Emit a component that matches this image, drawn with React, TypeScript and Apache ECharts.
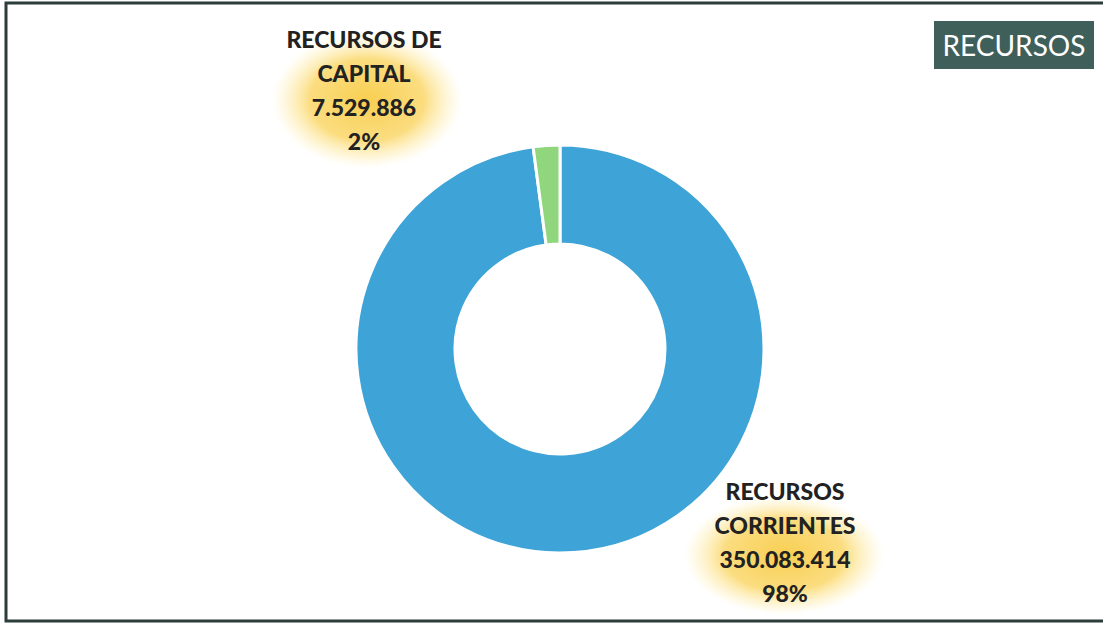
import React, { useEffect, useRef } from "react";
import * as echarts from "echarts";

const categories = ["RECURSOS CORRIENTES", "RECURSOS DE CAPITAL"];
const values = [350083414, 7529886];
const colors = ["#3ea3d6", "#8fd67c"];
const titleText = "RECURSOS";

const fmtNum = (n: number) =>
  Math.round(n).toString().replace(/\B(?=(\d{3})+(?!\d))/g, ".");

const wrapName = (s: string) => {
  const words = s.split(" ");
  const lines: string[] = [];
  let cur = "";
  for (const w of words) {
    if (cur && (cur + " " + w).length > 12) {
      lines.push(cur);
      cur = w;
    } else cur = cur ? cur + " " + w : w;
  }
  if (cur) lines.push(cur);
  return lines.join("\n");
};

export default function App() {
  const ref = useRef<HTMLDivElement>(null);
  useEffect(() => {
    if (!ref.current) return;
    const chart = echarts.init(ref.current, undefined, { renderer: "svg" });
    const labelPos = [
      { x: 785, y: 542 },
      { x: 364, y: 90 },
    ];
    const glow = (cx: number, cy: number, rx: number, ry: number) => ({
      type: "ellipse",
      z: 1,
      shape: { cx, cy, rx, ry },
      style: {
        fill: new echarts.graphic.RadialGradient(0.5, 0.5, 0.5, [
          { offset: 0, color: "rgba(248,204,72,0.95)" },
          { offset: 0.6, color: "rgba(250,212,95,0.8)" },
          { offset: 1, color: "rgba(255,236,160,0)" },
        ]),
      },
    });
    chart.setOption({
      animation: false,
      backgroundColor: "#ffffff",
      graphic: [
        {
          type: "rect",
          z: 0,
          shape: { x: 6, y: 3, width: 1110, height: 618 },
          style: { fill: "none", stroke: "#2c3d3a", lineWidth: 3 },
        },
        glow(367, 100, 95, 68),
        glow(784, 555, 100, 60),
        {
          type: "rect",
          z: 5,
          shape: { x: 934, y: 21, width: 160, height: 48 },
          style: { fill: "#3f5f5a" },
        },
        {
          type: "text",
          z: 6,
          x: 1014,
          y: 45,
          style: {
            text: titleText,
            fill: "#ffffff",
            font: "28px Lato, 'Open Sans', sans-serif",
            align: "center",
            verticalAlign: "middle",
          },
        },
      ],
      series: [
        {
          type: "pie",
          center: [560, 349],
          radius: [105, 204],
          startAngle: 90,
          clockwise: true,
          avoidLabelOverlap: false,
          itemStyle: { borderColor: "#ffffff", borderWidth: 3 },
          labelLine: { show: false },
          label: {
            show: true,
            position: "outside",
            color: "#222222",
            fontFamily: "Lato, 'Open Sans', sans-serif",
            fontWeight: 900,
            fontSize: 23,
            lineHeight: 34,
            align: "center",
            formatter: (p: any) =>
              `${wrapName(p.name)}\n${fmtNum(p.value)}\n${Math.round(p.percent)}%`,
          },
          labelLayout: (params: any) => ({
            x: labelPos[params.dataIndex].x,
            y: labelPos[params.dataIndex].y,
            align: "center",
            verticalAlign: "middle",
          }),
          data: categories.map((c, i) => ({
            name: c,
            value: values[i],
            itemStyle: { color: colors[i] },
          })),
        },
      ],
    });
    return () => chart.dispose();
  }, []);
  return (
    <div
      ref={ref}
      style={{ position: "absolute", left: 0, top: 0, width: 1103, height: 625 }}
    />
  );
}
